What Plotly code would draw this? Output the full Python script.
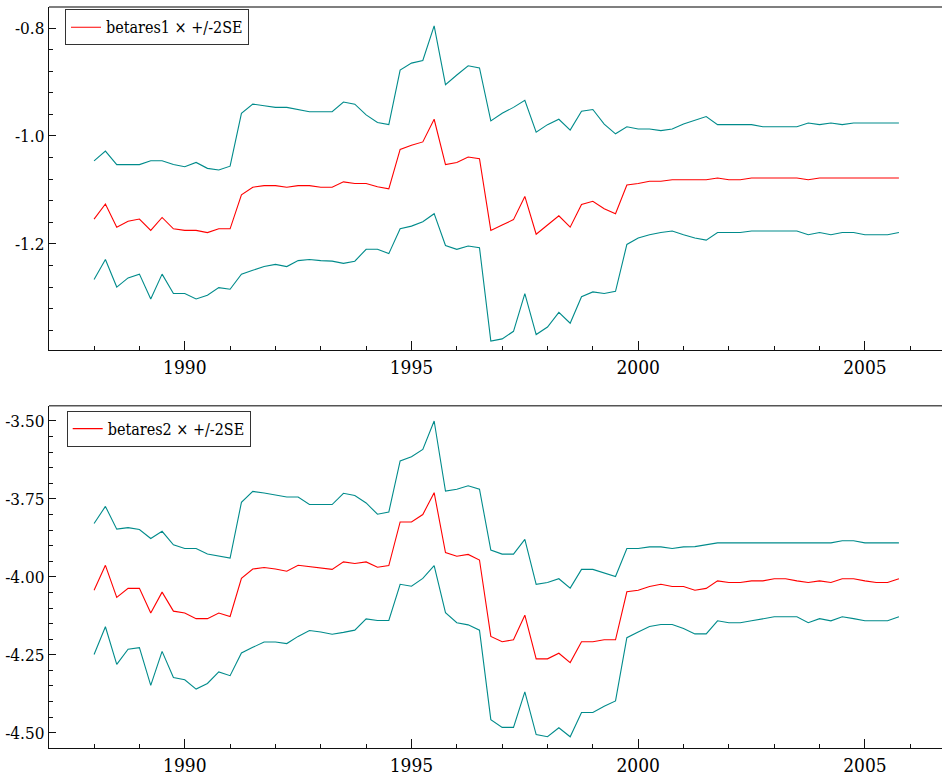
import numpy as np
import plotly.graph_objects as go

# quarterly dates 1988Q1 .. 2005Q4
start_year = 1988
n_quarters = 72
dates = [start_year + q / 4 for q in range(n_quarters)]

# ---- panel 1: betares1 and +/-2SE bands ----
betares1 = [-1.154, -1.126, -1.169, -1.158, -1.154, -1.175, -1.151, -1.172, -1.175, -1.175,
            -1.179, -1.172, -1.172, -1.109, -1.095, -1.092, -1.092, -1.095, -1.092, -1.092,
            -1.095, -1.095, -1.085, -1.088, -1.088, -1.094, -1.098, -1.025, -1.017, -1.011,
            -0.969, -1.053, -1.049, -1.039, -1.042, -1.175, -1.165, -1.155, -1.112, -1.182,
            -1.165, -1.148, -1.169, -1.127, -1.121, -1.135, -1.144, -1.091, -1.088, -1.084,
            -1.084, -1.081, -1.081, -1.081, -1.081, -1.078, -1.081, -1.081, -1.078, -1.078,
            -1.078, -1.078, -1.078, -1.081, -1.078, -1.078, -1.078, -1.078, -1.078, -1.078,
            -1.078, -1.078]
betares1_up = [-1.046, -1.028, -1.053, -1.053, -1.053, -1.046, -1.046, -1.053, -1.057, -1.049,
               -1.060, -1.063, -1.056, -0.958, -0.941, -0.944, -0.947, -0.947, -0.951, -0.955,
               -0.955, -0.955, -0.937, -0.941, -0.961, -0.975, -0.979, -0.878, -0.865, -0.860,
               -0.796, -0.905, -0.887, -0.870, -0.874, -0.972, -0.958, -0.947, -0.934, -0.993,
               -0.979, -0.969, -0.989, -0.954, -0.951, -0.978, -0.996, -0.983, -0.987, -0.987,
               -0.990, -0.987, -0.978, -0.971, -0.964, -0.979, -0.979, -0.979, -0.979, -0.983,
               -0.983, -0.983, -0.983, -0.976, -0.979, -0.976, -0.979, -0.976, -0.976, -0.976,
               -0.976, -0.976]
betares1_lo = [-1.266, -1.229, -1.280, -1.263, -1.256, -1.302, -1.256, -1.292, -1.292, -1.302,
               -1.295, -1.281, -1.284, -1.256, -1.249, -1.242, -1.238, -1.242, -1.231, -1.229,
               -1.231, -1.232, -1.236, -1.232, -1.210, -1.210, -1.218, -1.172, -1.167, -1.159,
               -1.144, -1.203, -1.210, -1.204, -1.207, -1.380, -1.376, -1.362, -1.292, -1.368,
               -1.354, -1.327, -1.347, -1.298, -1.289, -1.292, -1.288, -1.201, -1.189, -1.183,
               -1.179, -1.176, -1.183, -1.189, -1.193, -1.179, -1.179, -1.179, -1.176, -1.176,
               -1.176, -1.176, -1.176, -1.183, -1.179, -1.183, -1.179, -1.179, -1.183, -1.183,
               -1.183, -1.179]

# ---- panel 2: betares2 and +/-2SE bands ----
betares2 = [-4.043, -3.963, -4.066, -4.037, -4.037, -4.116, -4.049, -4.110, -4.116, -4.134,
            -4.134, -4.116, -4.127, -4.005, -3.975, -3.970, -3.975, -3.982, -3.963, -3.968,
            -3.973, -3.976, -3.952, -3.957, -3.952, -3.969, -3.964, -3.824, -3.824, -3.800,
            -3.730, -3.922, -3.934, -3.928, -3.946, -4.191, -4.208, -4.202, -4.123, -4.263,
            -4.263, -4.245, -4.275, -4.208, -4.208, -4.202, -4.202, -4.048, -4.043, -4.031,
            -4.024, -4.031, -4.031, -4.043, -4.037, -4.013, -4.018, -4.018, -4.013, -4.013,
            -4.006, -4.006, -4.013, -4.018, -4.013, -4.018, -4.006, -4.006, -4.013, -4.018,
            -4.018, -4.006]
betares2_up = [-3.829, -3.774, -3.847, -3.842, -3.848, -3.877, -3.854, -3.897, -3.909, -3.909,
               -3.927, -3.934, -3.940, -3.761, -3.726, -3.731, -3.738, -3.744, -3.744, -3.768,
               -3.768, -3.768, -3.732, -3.739, -3.763, -3.799, -3.792, -3.628, -3.615, -3.591,
               -3.500, -3.725, -3.719, -3.708, -3.719, -3.914, -3.927, -3.927, -3.880, -4.024,
               -4.018, -4.006, -4.036, -3.976, -3.976, -3.987, -3.999, -3.909, -3.909, -3.904,
               -3.904, -3.909, -3.904, -3.903, -3.896, -3.891, -3.891, -3.891, -3.891, -3.891,
               -3.891, -3.891, -3.891, -3.891, -3.891, -3.891, -3.884, -3.884, -3.891, -3.891,
               -3.891, -3.891]
betares2_lo = [-4.249, -4.160, -4.281, -4.232, -4.227, -4.348, -4.239, -4.323, -4.330, -4.360,
               -4.342, -4.305, -4.317, -4.244, -4.226, -4.209, -4.209, -4.214, -4.191, -4.172,
               -4.177, -4.184, -4.178, -4.171, -4.135, -4.140, -4.140, -4.024, -4.030, -4.005,
               -3.964, -4.115, -4.147, -4.154, -4.171, -4.458, -4.483, -4.483, -4.369, -4.506,
               -4.513, -4.484, -4.513, -4.435, -4.435, -4.415, -4.398, -4.195, -4.177, -4.159,
               -4.153, -4.153, -4.166, -4.183, -4.183, -4.141, -4.147, -4.147, -4.141, -4.134,
               -4.128, -4.128, -4.128, -4.147, -4.134, -4.141, -4.128, -4.134, -4.141, -4.141,
               -4.141, -4.128]

legend_names = ["betares1 \u00d7 +/-2SE", "betares2 \u00d7 +/-2SE"]
x_tickvals = [1990, 1995, 2000, 2005]
x_ticktext = ["1990", "1995", "2000", "2005"]
y1_tickvals = [-0.8, -1.0, -1.2]
y1_ticktext = ["-0.8", "-1.0", "-1.2"]
y2_tickvals = [-3.5, -3.75, -4.0, -4.25, -4.5]
y2_ticktext = ["-3.50", "-3.75", "-4.00", "-4.25", "-4.50"]

RED = "#ff0000"
TEAL = "#008b8b"
FONT = "DejaVu Serif Condensed"

fig = go.Figure()
panels = [
    (betares1, betares1_up, betares1_lo, "x", "y", "legend"),
    (betares2, betares2_up, betares2_lo, "x2", "y2", "legend2"),
]
for k, (mid, up, lo, xa, ya, lg) in enumerate(panels):
    fig.add_trace(go.Scatter(x=dates, y=up, mode="lines", line=dict(color=TEAL, width=1.1),
                             xaxis=xa, yaxis=ya, showlegend=False, hoverinfo="skip"))
    fig.add_trace(go.Scatter(x=dates, y=lo, mode="lines", line=dict(color=TEAL, width=1.1),
                             xaxis=xa, yaxis=ya, showlegend=False, hoverinfo="skip"))
    fig.add_trace(go.Scatter(x=dates, y=mid, mode="lines", line=dict(color=RED, width=1.1),
                             xaxis=xa, yaxis=ya, name=legend_names[k], legend=lg))

W, H = 942, 783
ml, mr, mt, mb = 49, 0, 7, 35
ph = H - mt - mb

def py(pix):
    return (H - mb - pix) / ph

def px(pix):
    return (pix - ml) / (W - ml - mr)

xcommon = dict(
    range=[1987.006, 2006.70], showline=True, linecolor="#111", linewidth=1.4,
    ticks="inside", ticklen=9, tickwidth=1, tickcolor="#111",
    tickvals=x_tickvals, ticktext=x_ticktext, showgrid=False, zeroline=False,
    tickfont=dict(family=FONT, size=19, color="#000"),
    minor=dict(ticks="inside", ticklen=4, tickwidth=1, tickcolor="#111", dtick=1, tick0=1990, showgrid=False),
    fixedrange=True, automargin=False,
)
ycommon = dict(
    showline=True, linecolor="#111", linewidth=1.4,
    ticks="inside", ticklen=7, tickwidth=1, tickcolor="#111",
    showgrid=False, zeroline=False,
    tickfont=dict(family=FONT, size=17, color="#000"),
    fixedrange=True, automargin=False,
)

fig.update_layout(
    width=W, height=H,
    margin=dict(l=ml, r=mr, t=mt, b=mb, autoexpand=False),
    paper_bgcolor="white", plot_bgcolor="white",
    xaxis=dict(domain=[0, 1], anchor="y", **xcommon),
    yaxis=dict(domain=[py(350), 1], anchor="x", range=[-1.3966, -0.761],
               tickvals=y1_tickvals, ticktext=y1_ticktext,
               minor=dict(ticks="inside", ticklen=3.5, tickwidth=1, tickcolor="#111", dtick=0.04, tick0=-0.8, showgrid=False),
               **ycommon),
    xaxis2=dict(domain=[0, 1], anchor="y2", **xcommon),
    yaxis2=dict(domain=[0, py(405.7)], anchor="x2", range=[-4.549, -3.451],
                tickvals=y2_tickvals, ticktext=y2_ticktext,
                minor=dict(ticks="inside", ticklen=3.5, tickwidth=1, tickcolor="#111", dtick=0.05, tick0=-3.5, showgrid=False),
                **ycommon),
    legend=dict(x=px(65), y=py(9.3), xanchor="left", yanchor="top",
                bordercolor="#333", borderwidth=1, bgcolor="white",
                font=dict(family=FONT, size=16, color="#000"), itemwidth=30,
                tracegroupgap=0),
    legend2=dict(x=px(66.7), y=py(410.7), xanchor="left", yanchor="top",
                 bordercolor="#333", borderwidth=1, bgcolor="white",
                 font=dict(family=FONT, size=16, color="#000"), itemwidth=30,
                 tracegroupgap=0),
    shapes=[
        dict(type="line", xref="x domain", yref="y domain", x0=0, x1=1, y0=1, y1=1,
             line=dict(color="#555", width=1.5)),
        dict(type="line", xref="x2 domain", yref="y2 domain", x0=0, x1=1, y0=1, y1=1,
             line=dict(color="#555", width=1.5)),
    ],
)

fig.write_html("out.html", config={"displayModeBar": False},
               post_script="document.body.style.margin='0px';")
